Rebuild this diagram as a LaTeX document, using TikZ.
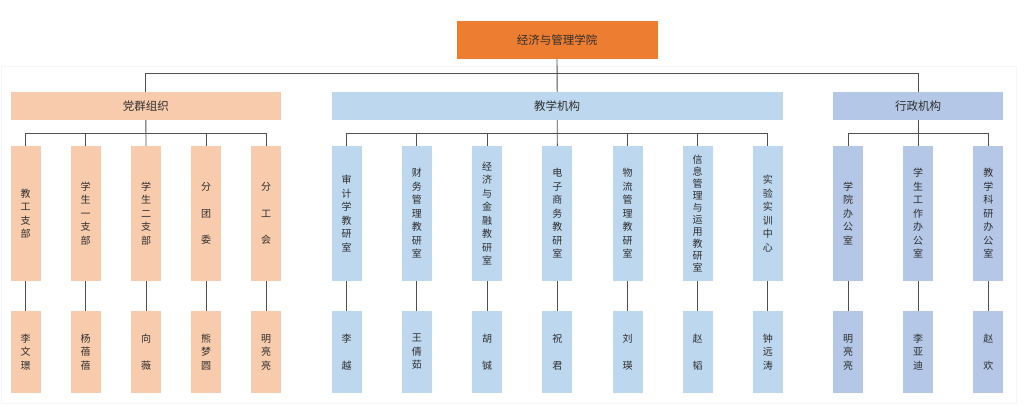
\documentclass[tikz,border=0pt]{standalone}
\usepackage{fontspec}
\newfontfamily\cjk{Noto Sans CJK SC}
\definecolor{topor}{HTML}{ED7D31}
\definecolor{peach}{HTML}{F8CBAD}
\definecolor{lblue}{HTML}{BDD7EE}
\definecolor{ablue}{HTML}{B4C7E7}
\definecolor{txt}{HTML}{2E2E2E}
\definecolor{ln}{HTML}{505050}
\begin{document}
\begin{tikzpicture}[x=1pt,y=-1pt,
  box/.style={inner sep=0pt,outer sep=0pt,draw=none,text=txt,align=center},
  bar/.style={box,minimum height=28pt,font=\cjk\fontsize{11.5}{13}\selectfont},
  col/.style={box,minimum width=30pt,minimum height=135pt},
  nm/.style={box,minimum width=30pt,minimum height=82pt},
  tight/.style={font=\cjk\fontsize{10}{13.5}\selectfont},
  loose/.style={font=\cjk\fontsize{10}{26.6}\selectfont},
  vtight/.style={font=\cjk\fontsize{10}{12}\selectfont},
  conn/.style={draw=ln,line width=0.9pt}]
\useasboundingbox (0,0) rectangle (1024,406);
\draw[draw=black!4,line width=0.8pt] (1,66) rectangle (1016,403);
% top
\node[box,fill=topor,minimum width=201pt,minimum height=38pt,font=\cjk\fontsize{11.5}{13}\selectfont] (top) at (557,40) {经济与管理学院};
% bars
\node[bar,fill=peach,minimum width=270pt] (P) at (145.9,106) {党群组织};
\node[bar,fill=lblue,minimum width=451pt] (T) at (557.2,106) {教学机构};
\node[bar,fill=ablue,minimum width=170pt] (A) at (918.2,106) {行政机构};
% party columns
\node[col,fill=peach,tight] (p1) at (25.5,213.5) {教\\工\\支\\部};
\node[col,fill=peach,tight] (p2) at (85.7,213.5) {学\\生\\一\\支\\部};
\node[col,fill=peach,tight] (p3) at (146,213.5) {学\\生\\二\\支\\部};
\node[col,fill=peach,loose] (p4) at (206,213.5) {分\\团\\委};
\node[col,fill=peach,loose] (p5) at (266,213.5) {分\\工\\会};
\node[nm,fill=peach,tight] (q1) at (25.5,352) {李\\文\\璟};
\node[nm,fill=peach,tight] (q2) at (85.7,352) {杨\\蓓\\蓓};
\node[nm,fill=peach,loose] (q3) at (146,352) {向\\薇};
\node[nm,fill=peach,tight] (q4) at (206,352) {熊\\梦\\圆};
\node[nm,fill=peach,tight] (q5) at (266,352) {明\\亮\\亮};
% teaching columns
\node[col,fill=lblue,tight] (t1) at (346.7,213.5) {审\\计\\学\\教\\研\\室};
\node[col,fill=lblue,tight] (t2) at (416.8,213.5) {财\\务\\管\\理\\教\\研\\室};
\node[col,fill=lblue,tight] (t3) at (487,213.5) {经\\济\\与\\金\\融\\教\\研\\室};
\node[col,fill=lblue,tight] (t4) at (557.3,213.5) {电\\子\\商\\务\\教\\研\\室};
\node[col,fill=lblue,tight] (t5) at (627.5,213.5) {物\\流\\管\\理\\教\\研\\室};
\node[col,fill=lblue,vtight] (t6) at (697.5,213.5) {信\\息\\管\\理\\与\\运\\用\\教\\研\\室};
\node[col,fill=lblue,tight] (t7) at (767.8,213.5) {实\\验\\实\\训\\中\\心};
\node[nm,fill=lblue,loose] (u1) at (346.7,352) {李\\越};
\node[nm,fill=lblue,tight] (u2) at (416.8,352) {王\\倩\\茹};
\node[nm,fill=lblue,loose] (u3) at (487,352) {胡\\铖};
\node[nm,fill=lblue,loose] (u4) at (557.3,352) {祝\\君};
\node[nm,fill=lblue,loose] (u5) at (627.5,352) {刘\\瑛};
\node[nm,fill=lblue,loose] (u6) at (697.5,352) {赵\\韬};
\node[nm,fill=lblue,tight] (u7) at (767.8,352) {钟\\远\\涛};
% admin columns
\node[col,fill=ablue,tight] (a1) at (848,213.5) {学\\院\\办\\公\\室};
\node[col,fill=ablue,tight] (a2) at (918.2,213.5) {学\\生\\工\\作\\办\\公\\室};
\node[col,fill=ablue,tight] (a3) at (988.3,213.5) {教\\学\\科\\研\\办\\公\\室};
\node[nm,fill=ablue,tight] (b1) at (848,352) {明\\亮\\亮};
\node[nm,fill=ablue,tight] (b2) at (918.2,352) {李\\亚\\迪};
\node[nm,fill=ablue,loose] (b3) at (988.3,352) {赵\\欢};
% connectors
\coordinate (hub) at (557,73);
\coordinate (br) at (0,133);
\draw[conn] (top.south) -- (T.north);
\draw[conn] (P.north) -- (P.north|-hub) -- (A.north|-hub) -- (A.north);
\draw[conn] (P.south) -- (p3.north);
\draw[conn] (p1.north) -- (p1.north|-br) -- (p5.north|-br) -- (p5.north);
\draw[conn] (p2.north) -- (p2.north|-br);
\draw[conn] (p4.north) -- (p4.north|-br);
\draw[conn] (T.south) -- (t4.north);
\draw[conn] (t1.north) -- (t1.north|-br) -- (t7.north|-br) -- (t7.north);
\foreach \i in {2,3,5,6}{\draw[conn] (t\i.north) -- (t\i.north|-br);}
\draw[conn] (A.south) -- (a2.north);
\draw[conn] (a1.north) -- (a1.north|-br) -- (a3.north|-br) -- (a3.north);
\foreach \i in {1,...,5}{\draw[conn] (p\i.south) -- (q\i.north);}
\foreach \i in {1,...,7}{\draw[conn] (t\i.south) -- (u\i.north);}
\foreach \i in {1,2,3}{\draw[conn] (a\i.south) -- (b\i.north);}
\end{tikzpicture}
\end{document}
